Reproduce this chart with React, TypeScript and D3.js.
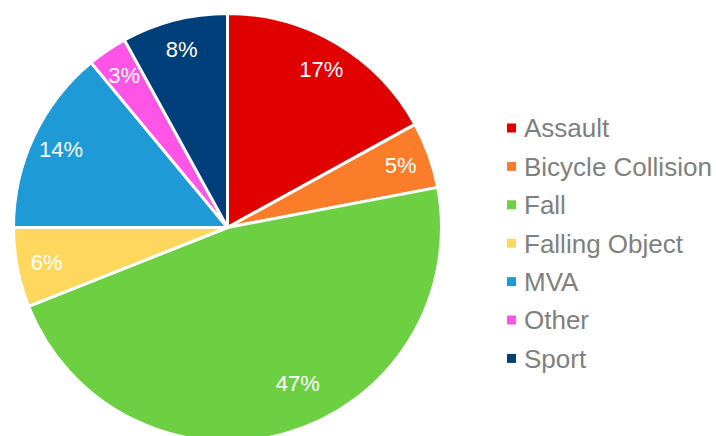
import React from "react";
import * as d3 from "d3";

const categories = ["Assault", "Bicycle Collision", "Fall", "Falling Object", "MVA", "Other", "Sport"];
const values = [17, 5, 47, 6, 14, 3, 8];
const colors = ["#e00000", "#fb7d2a", "#6dd042", "#ffd75c", "#1e9ad6", "#ff55e6", "#003f79"];

const W = 716, H = 436;
const cx = 227.5, cy = 227.5, R = 214;

export default function App() {
  const data = categories.map((c, i) => ({ name: c, value: values[i], color: colors[i] }));
  const pie = d3.pie<any>().value((d) => d.value).sort(null);
  const arcs = pie(data);
  const arc = d3.arc<any>().innerRadius(0).outerRadius(R);
  const labelArc = d3.arc<any>().innerRadius(R * 0.86).outerRadius(R * 0.86);
  const bigArc = d3.arc<any>().innerRadius(R * 0.8).outerRadius(R * 0.8);
  return (
    <svg width={W} height={H} style={{ position: "absolute", left: 0, top: 0, fontFamily: "Liberation Sans, Arial, sans-serif" }}>
      <rect width={W} height={H} fill="#fff" />
      <g transform={`translate(${cx},${cy})`}>
        {arcs.map((a, i) => (
          <path key={i} d={arc(a) as string} fill={a.data.color} stroke="#fff" strokeWidth={3} strokeLinejoin="round" />
        ))}
        {arcs.map((a, i) => {
          const big = a.endAngle - a.startAngle > Math.PI * 0.6;
          const [x, y] = (big ? bigArc : labelArc).centroid(big ? { ...a, startAngle: a.startAngle, endAngle: a.endAngle - 0.28 } : a);
          return (
            <text key={i} x={x} y={y} dy="0.35em" textAnchor="middle" fill="#fff" fontSize={22}>
              {a.data.value}%
            </text>
          );
        })}
      </g>
      <g>
        {data.map((d, i) => {
          const y = 128 + i * 38.4;
          return (
            <g key={i}>
              <rect x={507} y={y - 4.5} width={9} height={9} fill={d.color} />
              <text x={524} y={y} dy="0.36em" fill="#7f7f7f" fontSize={26}>{d.name}</text>
            </g>
          );
        })}
      </g>
    </svg>
  );
}
